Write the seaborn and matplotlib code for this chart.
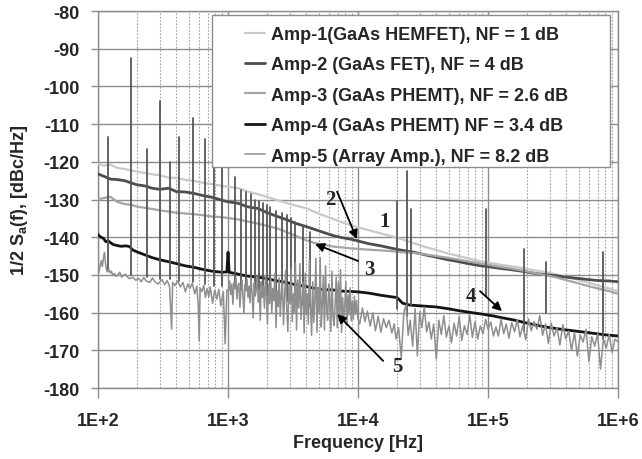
import numpy as np
import pandas as pd
import matplotlib
matplotlib.use("Agg")
import matplotlib.pyplot as plt
import seaborn as sns
from matplotlib.ticker import LogLocator, NullFormatter
from matplotlib.patches import Rectangle

# --------------------------
# DATA
# --------------------------
series_names = [
    "Amp-1(GaAs HEMFET), NF = 1 dB",
    "Amp-2 (GaAs FET), NF = 4 dB",
    "Amp-3 (GaAs PHEMT), NF = 2.6 dB",
    "Amp-4 (GaAs PHEMT) NF = 3.4 dB",
    "Amp-5 (Array Amp.), NF = 8.2 dB",
]

# common frequency grid for the three upper traces
freq_grid = [100, 110, 125, 140, 160, 180, 200, 230, 260, 300, 350, 400, 470, 550, 650, 750,
             900, 1000, 1200, 1400, 1700, 2000, 2400, 2800, 3300, 4000, 4700, 5500, 6500,
             7500, 9000, 10000, 12000, 15000, 18000, 22000, 27000, 33000, 40000, 48000,
             58000, 70000, 85000, 100000, 120000, 150000, 180000, 220000, 270000, 330000,
             400000, 480000, 580000, 700000, 850000, 1000000]

amp1_db = [-120.5, -121.0, -120.8, -121.6, -121.9, -122.3, -122.6, -123.0, -123.3, -123.6,
           -124.2, -124.3, -124.8, -125.1, -125.6, -125.9, -126.4, -126.6, -127.0, -127.8,
           -128.6, -129.3, -130.2, -130.9, -131.6, -132.3, -133.4, -134.3, -135.2, -136.0,
           -136.9, -137.4, -138.1, -139.0, -139.7, -140.6, -141.6, -142.6, -143.4, -144.2,
           -144.9, -145.6, -146.3, -146.7, -147.2, -147.7, -148.1, -148.7, -149.2, -149.8,
           -150.5, -151.2, -152.0, -152.8, -153.6, -154.3]

amp2_db = [-123.2, -123.8, -124.6, -124.7, -125.0, -125.6, -126.1, -126.4, -127.0, -127.3,
           -127.0, -127.9, -128.0, -128.4, -129.0, -129.4, -130.2, -130.6, -131.0, -131.9,
           -132.4, -133.5, -134.5, -135.3, -136.3, -137.2, -138.0, -138.8, -139.6, -140.1,
           -140.6, -141.0, -141.7, -142.3, -142.9, -143.5, -144.0, -144.7, -145.3, -145.9,
           -146.4, -147.0, -147.5, -147.8, -148.2, -148.6, -149.0, -149.5, -149.9, -150.2,
           -150.6, -150.9, -151.2, -151.5, -151.6, -151.8]

amp3_db = [-130.0, -129.6, -129.3, -130.6, -131.2, -131.4, -131.9, -132.2, -132.5, -132.9,
           -133.2, -133.5, -133.7, -133.9, -134.2, -134.5, -134.7, -134.9, -135.3, -135.8,
           -136.4, -137.0, -137.7, -138.6, -139.6, -140.8, -141.6, -142.0, -142.5, -142.7,
           -143.0, -143.1, -143.3, -143.5, -143.7, -144.0, -144.2, -144.6, -145.0, -145.4,
           -145.9, -146.4, -146.9, -147.3, -147.8, -148.3, -148.8, -149.4, -150.0, -150.6,
           -151.4, -152.1, -152.9, -153.6, -154.3, -155.0]

amp4_freq = [100, 105, 110, 115, 120, 130, 140, 150, 165, 175, 185, 200, 230, 260, 300, 350,
             400, 470, 550, 650, 750, 900, 980, 1000, 1020, 1200, 1400, 1700, 2000, 2400,
             2800, 3300, 4000, 4700, 5500, 6500, 7500, 9000, 10000, 12000, 15000, 18000,
             20000, 22000, 25000, 30000, 40000, 50000, 60000, 75000, 90000, 110000, 130000,
             160000, 200000, 250000, 300000, 400000, 500000, 650000, 800000, 1000000]
amp4_db = [-139.3, -140.0, -140.3, -141.2, -141.0, -141.9, -142.2, -142.4, -142.3, -142.5,
           -143.4, -143.9, -144.7, -145.4, -146.0, -146.5, -147.0, -147.6, -148.0, -148.6,
           -149.0, -149.3, -149.2, -144.0, -149.3, -149.8, -150.3, -150.6, -151.0, -151.6,
           -152.0, -152.6, -153.1, -153.6, -153.9, -154.0, -154.3, -154.4, -154.5, -154.8,
           -155.4, -155.8, -156.0, -157.5, -158.0, -158.2, -158.5, -159.0, -159.5, -160.0,
           -160.4, -160.9, -161.4, -162.0, -162.8, -163.5, -164.0, -164.6, -165.0, -165.5,
           -165.9, -166.2]

amp5_freq = [100, 102, 104, 106, 108, 110, 112, 114, 116, 118, 121, 124, 127, 130, 134, 138,
             142, 147, 152, 157, 162, 168, 174, 185, 195, 205, 215, 225, 235, 250, 262, 275,
             290, 310, 325, 340, 355, 368, 375, 390, 410, 430, 450, 470, 490, 510, 530, 555,
             575, 590, 600, 610, 630, 650, 670, 690, 710, 730, 760, 790, 820, 850, 880, 920,
             950, 980, 1010, 1030, 1050, 1070, 1090, 1110, 1130, 1150, 1170, 1190, 1210, 1235,
             1260, 1280, 1300, 1325, 1350, 1375, 1400, 1425, 1450, 1475, 1500, 1530, 1560,
             1590, 1620, 1650, 1680, 1710, 1740, 1770, 1800, 1835, 1870, 1905, 1940, 1975,
             2010, 2050, 2090, 2130, 2170, 2210, 2250, 2295, 2340, 2385, 2430, 2475, 2520,
             2570, 2620, 2670, 2720, 2775, 2830, 2885, 2940, 3000, 3060, 3120, 3180, 3240,
             3300, 3365, 3430, 3500, 3570, 3640, 3710, 3780, 3850, 3925, 4000, 4075, 4150,
             4230, 4310, 4395, 4480, 4565, 4650, 4740, 4830, 4925, 5020, 5115, 5210, 5310,
             5410, 5515, 5620, 5730, 5840, 5950, 6060, 6180, 6300, 6420, 6540, 6665, 6790,
             6920, 7050, 7190, 7330, 7470, 7610, 7755, 7900, 8055, 8210, 8370, 8530, 8695,
             8860, 9030, 9200, 9380, 9560, 9745, 9930, 10300, 10800, 11300, 11800, 12400,
             13000, 13600, 14300, 15000, 15700, 16500, 17300, 18200, 19000, 19600, 20500,
             21500, 22500, 23400, 24300, 25200, 26300, 27500, 28600, 29800, 31000, 32300,
             33700, 35100, 36600, 38200, 40000, 41800, 43700, 45700, 47800, 50000, 52300,
             54800, 57300, 60000, 62800, 65800, 69000, 72300, 75800, 79400, 83200, 87200,
             91400, 95800, 100000, 105000, 110000, 115000, 120000, 126000, 132000, 138000,
             145000, 152000, 160000, 168000, 176000, 185000, 195000, 205000, 215000, 226000,
             238000, 250000, 263000, 277000, 291000, 306000, 322000, 339000, 357000, 376000,
             396000, 417000, 439000, 462000, 486000, 512000, 539000, 567000, 597000, 628000,
             661000, 696000, 733000, 771000, 812000, 855000, 900000, 947000, 1000000]
amp5_db = [-150.0, -149.0, -147.5, -146.2, -147.8, -145.5, -144.0, -146.8, -148.6, -149.2,
           -148.4, -149.5, -149.0, -150.2, -149.6, -150.4, -150.0, -149.3, -150.6, -150.1,
           -149.8, -150.5, -151.0, -150.6, -151.4, -150.9, -151.8, -150.7, -151.6, -152.0,
           -150.8, -151.9, -152.4, -151.2, -152.6, -151.5, -153.0, -164.4, -152.0, -152.8,
           -151.6, -153.2, -152.0, -154.5, -152.4, -153.6, -152.2, -155.0, -153.0, -158.0,
           -167.5, -153.5, -154.4, -152.8, -156.0, -153.6, -155.8, -153.2, -157.5, -154.0,
           -156.4, -153.8, -158.2, -154.5, -168.3, -154.0,
           # 1 kHz .. 10 kHz: noise band widening with frequency
           -154.0, -151.6, -155.2, -152.4, -157.8, -152.0, -153.6, -150.8, -156.4, -153.0,
           -152.2, -158.6, -153.4, -151.4, -155.0, -160.2, -152.6, -154.2, -151.2, -156.0,
           -153.0, -157.4, -150.6, -154.8, -161.4, -152.2, -155.6, -153.8, -150.4, -157.2,
           -154.0, -162.0, -151.8, -156.0, -153.0, -158.8, -150.2, -155.4, -163.0, -152.4,
           -157.6, -151.0, -160.2, -153.6, -156.8, -149.6, -164.0, -154.2, -158.4, -150.8,
           -161.0, -155.0, -151.6, -163.2, -156.4, -148.8, -159.0, -165.0, -152.8, -157.6,
           -148.2, -162.4, -155.0, -160.0, -146.8, -164.6, -151.4, -158.8, -147.0, -161.8,
           -156.6, -152.0, -165.4, -149.5, -160.6, -155.0, -163.0, -146.0, -158.2, -166.0,
           -151.8, -162.6, -157.0, -145.6, -165.2, -153.4, -160.0, -145.4, -163.8, -158.0,
           -150.2, -164.6, -147.6, -159.4, -162.0, -152.4, -156.4, -165.0, -149.0, -161.2,
           -163.4, -157.8, -150.6, -164.0, -152.0, -160.8, -148.6, -165.2, -156.0, -161.6,
           -158.4, -151.8, -163.4, -155.2, -160.6, -153.4, -162.2, -157.0, -161.8, -155.6,
           -160.4, -156.8, -161.4,
           # 10 kHz .. 1 MHz
           -163.0, -158.8, -162.4, -159.6, -163.6, -160.0, -164.8, -161.0, -165.2, -161.6,
           -164.0, -162.0, -165.4, -163.0, -167.0, -164.0, -172.0, -160.0, -158.0, -166.0,
           -162.0, -168.9, -159.0, -171.5, -159.8, -164.0, -158.6, -165.1, -162.5, -167.0,
           -163.0, -172.3, -162.0, -165.8, -160.8, -166.5, -163.5, -168.0, -162.8, -166.2,
           -161.0, -167.4, -163.5, -165.8, -160.6, -166.6, -162.4, -167.0, -163.5, -165.6,
           -161.8, -164.4, -162.5, -166.2, -163.8, -166.2, -161.7, -165.6, -163.0, -166.8,
           -162.6, -165.1, -161.8, -166.4, -163.5, -167.2, -161.7, -164.8, -162.4, -164.4,
           -160.8, -166.0, -163.0, -168.2, -162.8, -166.2, -164.0, -168.6, -163.2, -167.0,
           -164.9, -170.0, -165.2, -171.5, -166.0, -167.8, -164.4, -173.0, -166.4, -168.9,
           -165.6, -175.0, -167.0, -169.4, -165.8, -170.6, -167.0, -167.8]

# discrete spurs (mains harmonics and other pick-up): frequency, top and bottom level
spur_freq = [120, 180, 240, 300, 360, 420, 540, 660, 780, 900, 1140, 1260, 1380, 1500, 1620,
             1740, 1860, 1980, 2100, 2340, 2580, 2820, 3060, 3300, 3780, 4260, 20000, 23800,
             25500, 97000, 190000, 280000, 770000]
spur_top = [-113.5, -92.5, -116.5, -104.0, -120.0, -113.5, -108.5, -114.0, -118.0, -119.0,
            -124.0, -127.5, -128.0, -128.5, -130.0, -130.5, -131.0, -131.5, -132.0, -133.0,
            -133.5, -134.0, -135.0, -136.0, -137.0, -138.5, -130.5, -122.5, -132.5, -132.5,
            -143.0, -146.5, -144.0]
spur_bot = [-149.0, -150.0, -150.5, -151.0, -151.0, -151.5, -152.0, -152.5, -153.0, -153.0,
            -153.5, -154.0, -154.0, -154.5, -155.0, -155.0, -155.5, -155.5, -156.0, -156.0,
            -156.5, -157.0, -157.0, -157.5, -158.0, -158.5, -159.0, -161.0, -158.0, -155.5,
            -165.0, -160.0, -167.0]

xtick_vals = [1e2, 1e3, 1e4, 1e5, 1e6]
xtick_labels = ["1E+2", "1E+3", "1E+4", "1E+5", "1E+6"]
ytick_vals = [-180, -170, -160, -150, -140, -130, -120, -110, -100, -90, -80]

# curve markers "1".."5" and the arrows pointing at the traces
mark_text = ["1", "2", "3", "4", "5"]
mark_f = [16100, 6100, 12300, 74000, 20000]
mark_db = [-135.7, -129.9, -148.4, -155.6, -174.2]
arrow_tail = [(6900, -127.9), (10000, -146.3), (86700, -154.3), (15600, -172.8)]
arrow_tip = [(9800, -140.5), (4670, -141.8), (128000, -159.6), (6900, -160.4)]

# --------------------------
# STYLE
# --------------------------
sns.set_style("white")
plt.rcParams["font.family"] = ["Liberation Sans", "DejaVu Sans"]
plt.rcParams["font.weight"] = "bold"
plt.rcParams["axes.labelweight"] = "bold"
plt.rcParams["axes.unicode_minus"] = False
plt.rcParams["mathtext.fontset"] = "custom"
plt.rcParams["mathtext.rm"] = "Liberation Sans:bold"
plt.rcParams["mathtext.bf"] = "Liberation Sans:bold"
plt.rcParams["mathtext.it"] = "Liberation Sans:bold"

line_colors = ["#c9c9c9", "#4d4d4d", "#a5a5a5", "#141414", "#8e8e8e"]
line_widths = [1.6, 2.0, 1.6, 2.0, 1.1]

fig = plt.figure(figsize=(6.42, 4.60), dpi=100)
ax = fig.add_axes([0.1527, 0.1543, 0.8100, 0.8196])

# --------------------------
# TRACES
# --------------------------
traces = [
    (freq_grid, amp1_db),
    (freq_grid, amp2_db),
    (freq_grid, amp3_db),
    (amp4_freq, amp4_db),
    (amp5_freq, amp5_db),
]

spur_df = pd.DataFrame({
    "freq": np.repeat(spur_freq, 2),
    "db": np.column_stack([spur_bot, spur_top]).ravel(),
    "spur": np.repeat(np.arange(len(spur_freq)), 2),
})

for i, (f, db) in enumerate(traces):
    if i == 4:
        sns.lineplot(data=spur_df, x="freq", y="db", units="spur", estimator=None,
                     color="#575757", lw=1.3, ax=ax, legend=False, zorder=3)
    sns.lineplot(x=f, y=db, color=line_colors[i], lw=line_widths[i], label=series_names[i],
                 estimator=None, sort=False, ax=ax, zorder=3)

# --------------------------
# AXES
# --------------------------
ax.set_xscale("log")
ax.set_xlim(1e2, 1e6)
ax.set_ylim(-180, -80)
ax.set_xticks(xtick_vals)
ax.set_xticklabels(xtick_labels)
ax.xaxis.set_minor_locator(LogLocator(base=10, subs=np.arange(2, 10)))
ax.xaxis.set_minor_formatter(NullFormatter())
ax.set_yticks(ytick_vals)
ax.set_axisbelow(True)
ax.grid(True, which="major", color="#8c8c8c", lw=1.0, ls="-")
ax.grid(True, which="minor", axis="x", color="#a0a0a0", lw=0.8, ls=(0, (1.5, 1.5)))
for sp in ax.spines.values():
    sp.set_color("#8c8c8c")
    sp.set_linewidth(1.0)

ax.tick_params(axis="x", which="major", bottom=True, length=7, width=1, color="#8c8c8c",
               pad=10, labelsize=13)
ax.tick_params(axis="x", which="minor", bottom=False, length=0)
ax.tick_params(axis="y", left=True, length=5, width=1, color="#8c8c8c", pad=8, labelsize=13)

ax.set_xlabel("Frequency [Hz]", fontsize=13, fontweight="bold", labelpad=4)
ax.set_ylabel("1/2 S$_\\mathbf{a}$(f), [dBc/Hz]", fontsize=13, fontweight="bold", labelpad=10)

# --------------------------
# LEGEND
# --------------------------
box = Rectangle((0.2192, 0.5862), 0.7654, 0.4032, transform=ax.transAxes,
                facecolor="white", edgecolor="#8c8c8c", lw=1.0, zorder=19)
ax.add_patch(box)
leg = ax.legend(loc="upper left", bbox_to_anchor=(0.2827, 0.960), frameon=False,
                prop={"weight": "bold", "size": 13}, handlelength=1.1, handletextpad=0.35,
                labelspacing=0.74, borderpad=0, borderaxespad=0)
leg.set_zorder(20)

# --------------------------
# CURVE MARKERS
# --------------------------
for s, f, db in zip(mark_text, mark_f, mark_db):
    ax.text(f, db, s, fontfamily="Liberation Serif", fontweight="bold", fontsize=15,
            ha="center", va="center", zorder=25)
for tail, tip in zip(arrow_tail, arrow_tip):
    ax.annotate("", xy=tip, xytext=tail,
                arrowprops=dict(arrowstyle="-|>", color="black", lw=1.3,
                                mutation_scale=13, shrinkA=0, shrinkB=0), zorder=25)

fig.savefig("out.png", dpi=100)
